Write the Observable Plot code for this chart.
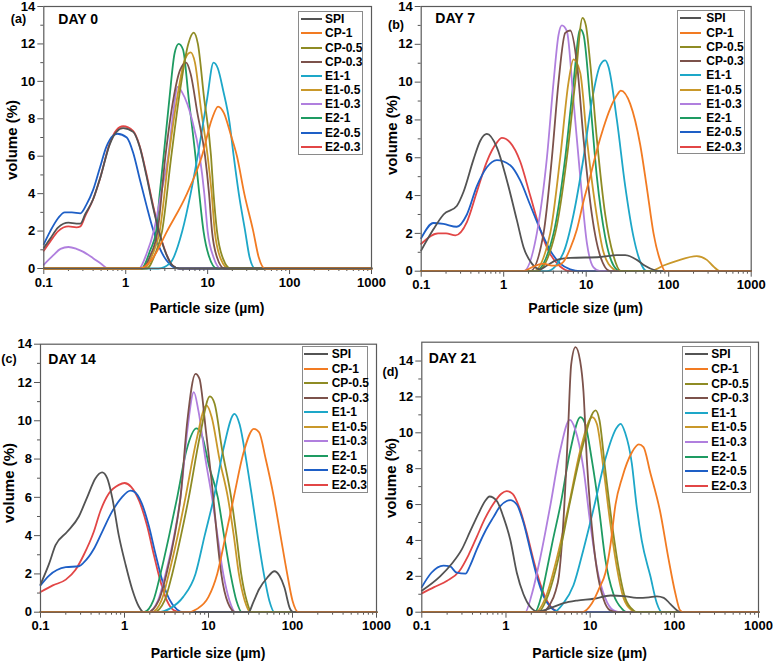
<!DOCTYPE html>
<html><head><meta charset="utf-8">
<script src="https://cdn.jsdelivr.net/npm/d3@7"></script>
<script src="https://cdn.jsdelivr.net/npm/@observablehq/plot@0.6"></script>
<style>
body{margin:0;background:#fff;font-family:"Liberation Sans",Arial,sans-serif;}
#root{position:relative;width:773px;height:661px;overflow:hidden;background:#fff;}
.svgbox{position:absolute;}
.lbl{position:absolute;font-weight:bold;white-space:nowrap;color:#000;line-height:1;}
.legend{position:absolute;border:1px solid #8a8a8a;background:#fff;box-sizing:border-box;}
.lgline{position:absolute;height:2px;}
</style></head>
<body><div id="root"></div>
<script>
// ---------- series names / colours / ticks ----------
const seriesNames = ["SPI","CP-1","CP-0.5","CP-0.3","E1-1","E1-0.5","E1-0.3","E2-1","E2-0.5","E2-0.3"];
const seriesColors = ["#535353","#F27B22","#8E8B24","#7C524B","#1DA7C8","#C9982A","#B07FDE","#1E9B62","#1E5FC6","#E24646"];
const xTickValues = [0.1,1,10,100,1000];
const yTickValues = [0,2,4,6,8,10,12,14];
const yMinorTickValues = [1,3,5,7,9,11,13];
const panelLetters = ["(a)","(b)","(c)","(d)"];
const panelDays = ["DAY 0","DAY 7","DAY 14","DAY 21"];

// ---------- DAY 0 ----------
const d0_SPI = [[0.1,1.1],[0.12,1.6],[0.15,2.2],[0.2,2.45],[0.25,2.4],[0.28,2.4],[0.32,2.9],[0.4,3.7],[0.485,4.8],[0.64,6.65],[0.77,7.3],[0.93,7.5],[1.23,7.3],[1.48,6.5],[1.78,5.0],[2.15,3.3],[2.59,1.85],[3.12,0.77],[3.75,0.15],[4.5,0],[1000,0]];
const d0_CP1 = [[0.1,0],[1.5,0],[2.1,0.5],[3.2,2],[5.6,4],[8.5,6],[11.3,8],[13.4,8.65],[15.8,8.3],[19,7.2],[22.8,6],[28,4],[36,2],[42,0.6],[50,0],[1000,0]];
const d0_CP05 = [[0.1,0],[1.8,0],[2.25,0.7],[2.78,2],[3.6,6],[4.6,9.5],[5.8,12],[6.75,12.6],[7.6,12],[9.0,9.2],[11,6],[11.8,4],[13,2],[15.5,0.5],[19,0],[1000,0]];
const d0_CP03 = [[0.1,0],[1.6,0],[2.0,0.7],[2.45,2],[3.05,6],[3.8,9],[4.6,10.6],[5.47,11.0],[6.2,10.4],[7.5,8.3],[9.3,6],[10.4,4],[11.3,2],[13,0.6],[16,0],[1000,0]];
const d0_E11 = [[0.1,0],[2.5,0],[3.5,0.3],[4.9,2],[6.2,4],[7.55,6],[9.8,9],[11.8,11.0],[13.3,10.7],[15.5,9.5],[18.5,7.8],[20.8,6],[24,4],[28.7,2],[32.5,0.6],[38,0],[1000,0]];
const d0_E105 = [[0.1,0],[1.7,0],[2.1,0.7],[2.6,2],[3.35,6],[4.2,9],[5.3,11.2],[6.2,11.55],[7.0,11],[8.3,8.5],[10,6],[11.2,4],[12.2,2],[14.5,0.5],[18,0],[1000,0]];
const d0_E103 = [[0.1,0.2],[0.13,0.7],[0.16,1.05],[0.2,1.15],[0.25,1.05],[0.3,0.9],[0.4,0.55],[0.5,0.25],[0.61,0],[1.45,0],[1.8,0.8],[2.2,2],[2.7,4],[3.3,6],[3.8,8.3],[4.3,9.7],[4.9,9.4],[6.4,8],[8.0,6],[9.1,4],[10,2],[11.8,0.6],[14.5,0],[1000,0]];
const d0_E21 = [[0.1,0],[1.55,0],[2.0,1],[2.35,2],[2.6,4],[2.9,6],[3.4,9],[3.95,11.5],[4.43,12.0],[5.0,11.7],[5.9,9],[7.1,6],[7.9,4],[8.9,2],[10.3,0.7],[13,0],[1000,0]];
const d0_E205 = [[0.1,1.3],[0.12,2.0],[0.15,2.7],[0.18,3.0],[0.22,3.0],[0.28,2.95],[0.33,3.4],[0.4,4.2],[0.485,5.4],[0.58,6.5],[0.7,7.1],[0.79,7.2],[1.03,7.0],[1.23,6.2],[1.48,4.8],[1.785,3.4],[2.15,2.1],[2.59,1.1],[3.12,0.45],[3.75,0.1],[4.5,0],[1000,0]];
const d0_E203 = [[0.1,0.95],[0.12,1.45],[0.15,2.0],[0.2,2.25],[0.25,2.2],[0.28,2.25],[0.32,2.8],[0.4,3.7],[0.485,4.8],[0.64,6.7],[0.77,7.4],[0.93,7.6],[1.23,7.35],[1.48,6.55],[1.78,5.1],[2.15,3.4],[2.59,1.9],[3.12,0.8],[3.75,0.15],[4.5,0],[1000,0]];

// ---------- DAY 7 ----------
const d7_SPI = [[0.1,1.1],[0.14,2.2],[0.1865,3.0],[0.27,3.45],[0.326,4.2],[0.43,5.9],[0.52,6.9],[0.625,7.26],[0.826,6.55],[1.093,4.8],[1.444,2.7],[1.74,1.27],[2.195,0.4],[2.77,0.1],[3.34,0.3],[4.41,0.6],[6.4,0.7],[14.78,0.75],[23.54,0.85],[29.7,0.85],[41.1,0.6],[51,0.3],[68,0.05],[80,0],[1000,0]];
const d7_CP1 = [[0.1,0],[1.74,0],[2.3,0.25],[3.04,0.4],[3.84,0.3],[4.41,0.3],[5.31,0.5],[6.4,1.2],[7.71,2.2],[9.28,3.7],[11.18,5.0],[13.46,6.4],[16.22,7.6],[19.54,8.6],[23.54,9.3],[26.3,9.55],[34.15,8.85],[45.1,6.7],[54.4,4.4],[65.5,2.0],[78.9,0.56],[90.7,0],[1000,0]];
const d7_CP05 = [[0.1,0],[2.52,0],[4.21,2],[5.83,6],[7.36,10],[9.03,13.4],[9.91,13.0],[11.18,11],[13.46,7],[16.99,3],[21.45,0.8],[26.3,0],[1000,0]];
const d7_CP03 = [[0.1,0],[2.095,0],[3.04,2],[3.84,6],[4.62,10],[5.57,12.6],[6.4,12.73],[7.71,11],[9.28,7],[11.71,3],[14.78,0.8],[19.54,0],[1000,0]];
const d7_E11 = [[0.1,0],[3.34,0],[5.31,1],[7.02,3],[9.28,6],[11.71,9],[14.78,10.9],[16.99,11.15],[18.65,10.8],[23.54,8],[29.7,4.5],[37.5,1.8],[47.3,0.3],[54.4,0],[1000,0]];
const d7_E105 = [[0.1,0],[2.3,0],[3.66,2],[4.84,6],[6.11,10],[7.02,11.2],[8.46,10.5],[10.19,7],[12.85,3.5],[16.22,1],[21.45,0.1],[23.54,0],[59.7,0],[86.6,0.3],[125.6,0.55],[219,0.8],[290,0.6],[349,0.25],[421,0],[1000,0]];
const d7_E103 = [[0.1,0],[1.74,0],[2.52,2],[3.34,6],[4.02,10],[4.62,12.5],[5.07,13.0],[5.83,12.7],[7.02,9],[8.46,5],[10.19,1.5],[12.27,0.2],[14.78,0],[1000,0]];
const d7_E21 = [[0.1,0],[2.41,0],[4.02,2],[5.57,6],[7.02,10],[8.46,12.8],[9.28,12.5],[11.18,9],[13.46,5],[16.99,1.8],[21.45,0.3],[25.83,0],[1000,0]];
const d7_E205 = [[0.1,1.75],[0.141,2.55],[0.1865,2.5],[0.27,2.35],[0.358,3.0],[0.473,4.5],[0.625,5.5],[0.826,5.88],[1.2,5.6],[1.585,4.8],[2.095,3.5],[2.77,2.2],[3.66,1.1],[4.84,0.4],[6.4,0.1],[8.46,0],[1000,0]];
const d7_E203 = [[0.1,1.45],[0.16,2.0],[0.2,2.0],[0.26,1.9],[0.358,2.6],[0.473,4.2],[0.625,5.8],[0.826,6.8],[0.95,7.05],[1.2,6.8],[1.585,5.8],[2.095,4.0],[2.77,2.2],[3.66,0.9],[4.84,0.25],[6.4,0],[1000,0]];

// ---------- DAY 14 ----------
const d14_SPI = [[0.1,1.45],[0.1257,2.5],[0.151,3.5],[0.2078,4.2],[0.286,5.0],[0.359,6.0],[0.452,7.0],[0.542,7.3],[0.622,7.0],[0.713,6.0],[0.856,4.0],[1.028,2.5],[1.234,1.2],[1.48,0.3],[1.7,0],[30,0],[34,0.5],[40,1.2],[50,1.8],[61,2.14],[70,1.9],[80,1.3],[93,0.2],[102,0],[1000,0]];
const d14_CP1 = [[0.1,0],[5.5,0],[7.5,0.2],[10,0.8],[12.7,2],[16,4],[20,6],[26,8.3],[34.7,9.58],[40,9.4],[48,8],[60,6],[72,4],[86.5,2],[100,0.6],[118,0],[1000,0]];
const d14_CP05 = [[0.1,0],[2.25,0],[3.0,0.6],[3.7,2],[4.7,4],[5.83,6],[7.9,9.2],[10.4,11.27],[11.8,10.9],[14.5,8.5],[18.6,6],[21.5,4],[24.5,2],[28.5,0.6],[32.5,0],[1000,0]];
const d14_CP03 = [[0.1,0],[1.9,0],[2.55,0.6],[3.16,2],[3.95,4],[4.64,6],[5.6,10],[7.0,12.45],[7.8,12.2],[9.3,9.5],[11.4,6],[12.6,4],[14.2,2],[17,0.5],[21,0],[1000,0]];
const d14_E11 = [[0.1,0],[2.5,0],[3.5,0.2],[5.0,0.8],[7.0,2],[9.0,4],[11.6,6],[15,8.5],[20.4,10.36],[23.5,9.8],[28,8],[33,6],[38.5,4],[45.6,2],[53,0.6],[61,0],[1000,0]];
const d14_E105 = [[0.1,0],[2.1,0],[2.75,0.6],[3.37,2],[4.3,4],[5.32,6],[7.2,9],[9.46,10.8],[10.9,10.2],[13.5,8],[17,6],[20,4],[23,2],[27,0.6],[31.6,0],[1000,0]];
const d14_E103 = [[0.1,0],[1.9,0],[2.5,0.6],[3.08,2],[3.9,4],[4.64,6],[5.6,9.5],[6.69,11.5],[7.6,10.5],[9.2,8],[11,6],[12.8,4],[15,2],[17.8,0.6],[21,0],[1000,0]];
const d14_E21 = [[0.1,0],[1.7,0],[2.2,0.6],[2.68,2],[3.4,4],[4.24,6],[5.5,8.5],[7.2,9.6],[8.4,9.2],[10.2,7.6],[12.9,6],[15.3,4],[18.3,2],[21.5,0.6],[25,0],[1000,0]];
const d14_E205 = [[0.1,1.4],[0.1257,1.9],[0.2,2.35],[0.286,2.4],[0.328,2.6],[0.431,3.3],[0.542,4.2],[0.7,5.2],[0.93,6.0],[1.179,6.35],[1.3,6.3],[1.6,5.7],[1.95,4.5],[2.35,3.0],[2.8,1.7],[3.4,0.7],[4.2,0.15],[5.0,0],[1000,0]];
const d14_E203 = [[0.1,1.05],[0.14,1.4],[0.2,1.7],[0.26,2.2],[0.328,3.0],[0.431,4.2],[0.518,5.3],[0.651,6.2],[0.856,6.65],[1.0,6.75],[1.2,6.55],[1.5,5.8],[1.862,4.5],[2.235,3.0],[2.683,1.6],[3.2,0.6],[3.87,0.1],[4.64,0],[1000,0]];

// ---------- DAY 21 ----------
const d21_SPI = [[0.1,1.2],[0.165,2.0],[0.227,2.7],[0.2987,3.5],[0.375,4.5],[0.4714,5.5],[0.5655,6.2],[0.637,6.45],[0.778,6.2],[0.934,5.3],[1.13,4.0],[1.345,2.2],[1.614,1.0],[1.937,0.3],[2.325,0.05],[2.79,0.1],[3.667,0.3],[4.82,0.5],[7,0.65],[11,0.75],[17.5,0.93],[25,0.9],[36,0.8],[50,0.83],[62,0.88],[75,0.8],[90,0.45],[108,0.1],[118,0],[1000,0]];
const d21_CP1 = [[0.1,0],[8.0,0],[10.5,0.5],[13,1.4],[15.2,2.2],[17.5,3.8],[20,6],[24,7.5],[31.26,8.9],[37.8,9.35],[43.03,9.2],[51.64,7.8],[67.9,5.6],[85.1,3.0],[102.3,1.1],[117.3,0.1],[128.6,0],[1000,0]];
const d21_CP05 = [[0.1,0],[2.39,0],[3.2,1],[4.206,3],[5.68,6],[7.89,9],[11.6,11.25],[12.91,10.7],[15.07,8],[18.1,5],[21.72,2.5],[26.05,0.8],[32.73,0.1],[35.85,0],[1000,0]];
const d21_CP03 = [[0.1,0],[2.7,0],[3.3,0.4],[3.9,1.2],[4.25,2],[4.8,5],[5.43,9.85],[5.95,13.8],[6.7,14.77],[7.61,14.0],[8.33,12.3],[9.13,8.5],[10.46,4.8],[12.0,2.4],[14.4,0.74],[17.29,0.1],[20.75,0],[1000,0]];
const d21_E11 = [[0.1,0],[3.667,0],[4.82,0.5],[6.34,1.5],[8.33,3.5],[11.3,6],[15.07,8.5],[20.75,10.3],[23,10.5],[26.05,10.0],[31.26,8.3],[35.5,6],[41,4],[52,2],[61.97,0.5],[71.06,0],[1000,0]];
const d21_E105 = [[0.1,0],[2.222,0],[3.055,1],[4.018,3],[5.6,6],[7.61,9],[10.6,10.87],[12.0,10.5],[14.4,8],[17.29,5],[20.75,2.5],[24.89,0.8],[31.26,0.1],[34.25,0],[1000,0]];
const d21_E103 = [[0.1,0],[1.69,0],[2.027,1],[2.547,3],[3.38,6],[4.4,9],[5.73,10.72],[6.635,10.2],[8.33,8],[10,5],[12.0,2.5],[15.07,0.8],[18.94,0.1],[22.72,0],[1000,0]];
const d21_E21 = [[0.1,0],[2.2,0],[2.6,0.8],[2.95,2],[3.6,4],[4.45,6],[5.8,9],[7.67,10.87],[8.72,10.5],[10.46,8.5],[12.8,5.7],[15.07,3],[18.94,1],[23.78,0.2],[27.27,0],[1000,0]];
const d21_E205 = [[0.1,1.4],[0.13,2.2],[0.181,2.6],[0.217,2.55],[0.26,2.2],[0.33,2.15],[0.375,2.6],[0.45,3.5],[0.5655,4.5],[0.71,5.3],[0.85,5.9],[1.02,6.2],[1.121,6.25],[1.345,6.0],[1.614,5.0],[1.937,3.5],[2.325,2.0],[2.79,0.9],[3.348,0.3],[4.018,0.05],[4.4,0],[1000,0]];
const d21_E203 = [[0.1,1.05],[0.14,1.4],[0.2,1.75],[0.28,2.3],[0.36,3.2],[0.45,4.2],[0.56,5.2],[0.7,6.0],[0.88,6.6],[1.02,6.75],[1.2,6.6],[1.45,5.8],[1.75,4.5],[2.1,3.0],[2.55,1.6],[3.1,0.6],[3.7,0.15],[4.5,0],[1000,0]];

const day0 = [d0_SPI,d0_CP1,d0_CP05,d0_CP03,d0_E11,d0_E105,d0_E103,d0_E21,d0_E205,d0_E203];
const day7 = [d7_SPI,d7_CP1,d7_CP05,d7_CP03,d7_E11,d7_E105,d7_E103,d7_E21,d7_E205,d7_E203];
const day14 = [d14_SPI,d14_CP1,d14_CP05,d14_CP03,d14_E11,d14_E105,d14_E103,d14_E21,d14_E205,d14_E203];
const day21 = [d21_SPI,d21_CP1,d21_CP05,d21_CP03,d21_E11,d21_E105,d21_E103,d21_E21,d21_E205,d21_E203];

// ---------- layout (pixels) ----------
const panels = [
  {data: day0, ymax: 14, box:[0,0,386,322], m:[6,15,54,43.3],
   legend:{l:297.7,t:11,r:362.7,b:155,y0:19.3,dy:14.15,lx1:300.5,lx2:321.7,tx:325},
   letter:[18.5,18.5], day:[58.3,18.7], ytitle:[10.8,139.6], xtitle:[207,308]},
  {data: day7, ymax: 14, box:[386,0,387,322], m:[6,22.3,51.3,34.7],
   legend:{l:677.3,t:10,r:745.3,b:154,y0:18.3,dy:14.27,lx1:679.7,lx2:701.3,tx:706.3},
   letter:[396,24.7], day:[435.3,18.3], ytitle:[391,135], xtitle:[585.7,308]},
  {data: day14, ymax: 14, box:[0,322,386,339], m:[21.7,10,49.3,40],
   legend:{l:301.7,t:345.7,r:368.3,b:493.3,y0:354.3,dy:14.52,lx1:304,lx2:328.3,tx:331.7},
   letter:[9,358.5], day:[48.3,359.3], ytitle:[7.5,482.5], xtitle:[208,653]},
  {data: day21, ymax: 15.05, box:[386,322,387,339], m:[19.7,15,49.3,35.3],
   legend:{l:682.3,t:345.7,r:750.7,b:493.3,y0:354.3,dy:14.6,lx1:684.7,lx2:708,tx:711.3},
   letter:[390.5,371.7], day:[428.7,358.3], ytitle:[390,478], xtitle:[589.7,653]}
];

const xMinorTicks = [0.1,1,10,100].flatMap(b => [2,3,4,5,6,7,8,9].map(k => +(b*k).toPrecision(3)));
const drawOrder = [9,8,7,6,5,4,3,2,0,1];
const root = document.getElementById("root");

function addText(txt, cx, cy, size, opts={}) {
  const d = document.createElement("div");
  d.className = "lbl";
  d.textContent = txt;
  d.style.fontSize = size + "px";
  d.style.left = cx + "px";
  d.style.top = cy + "px";
  let tr = opts.left ? "translate(0,-50%)" : "translate(-50%,-50%)";
  if (opts.rotate) tr += " rotate(-90deg)";
  d.style.transform = tr;
  root.appendChild(d);
}

panels.forEach((p, pi) => {
  const [bx, by, bw, bh] = p.box;
  const [mt, mr, mb, ml] = p.m;
  const marks = [
    Plot.axisX({ticks: xTickValues, tickFormat: d => String(d), tickSize: 6, tickPadding: 3, stroke: "#555", fill: "#000", label: null}),
    Plot.axisX({ticks: xMinorTicks, tickSize: 3, text: null, stroke: "#555", label: null}),
    Plot.axisY({ticks: yTickValues, tickSize: 6, tickPadding: 2.5, stroke: "#555", fill: "#000", label: null}),
    Plot.axisY({ticks: yMinorTickValues, tickSize: 3, text: null, stroke: "#555", label: null})
  ];
  drawOrder.forEach(i => {
    marks.push(Plot.line(p.data[i], {x: d => d[0], y: d => d[1], stroke: seriesColors[i], strokeWidth: 1.8, curve: "monotone-x"}));
  });
  marks.push(Plot.frame({stroke: "#5a5a5a", strokeWidth: 1.2}));
  const chart = Plot.plot({
    width: bw, height: bh,
    marginTop: mt, marginRight: mr, marginBottom: mb, marginLeft: ml,
    x: {type: "log", domain: [0.1, 1000], label: null},
    y: {domain: [0, p.ymax], label: null},
    style: {fontFamily: "'Liberation Sans', Arial, sans-serif", fontSize: "13px", fontWeight: "bold", background: "transparent", overflow: "visible", color: "#000"},
    marks
  });
  const wrap = document.createElement("div");
  wrap.className = "svgbox";
  wrap.style.left = bx + "px"; wrap.style.top = by + "px";
  wrap.appendChild(chart);
  root.appendChild(wrap);

  // legend
  const L = p.legend;
  const box = document.createElement("div");
  box.className = "legend";
  box.style.left = L.l + "px"; box.style.top = L.t + "px";
  box.style.width = (L.r - L.l) + "px"; box.style.height = (L.b - L.t) + "px";
  root.appendChild(box);
  seriesNames.forEach((name, i) => {
    const cy = L.y0 + i * L.dy;
    const ln = document.createElement("div");
    ln.className = "lgline";
    ln.style.left = L.lx1 + "px"; ln.style.top = (cy - 1) + "px";
    ln.style.width = (L.lx2 - L.lx1) + "px";
    ln.style.background = seriesColors[i];
    root.appendChild(ln);
    addText(name, L.tx, cy, 12, {left: true});
  });

  addText(panelLetters[pi], p.letter[0], p.letter[1], 12.5);
  addText(panelDays[pi], p.day[0], p.day[1], 14, {left: true});
  addText("volume (%)", p.ytitle[0], p.ytitle[1], 15, {rotate: true});
  addText("Particle size (µm)", p.xtitle[0], p.xtitle[1], 14);
});
</script>
</body></html>
